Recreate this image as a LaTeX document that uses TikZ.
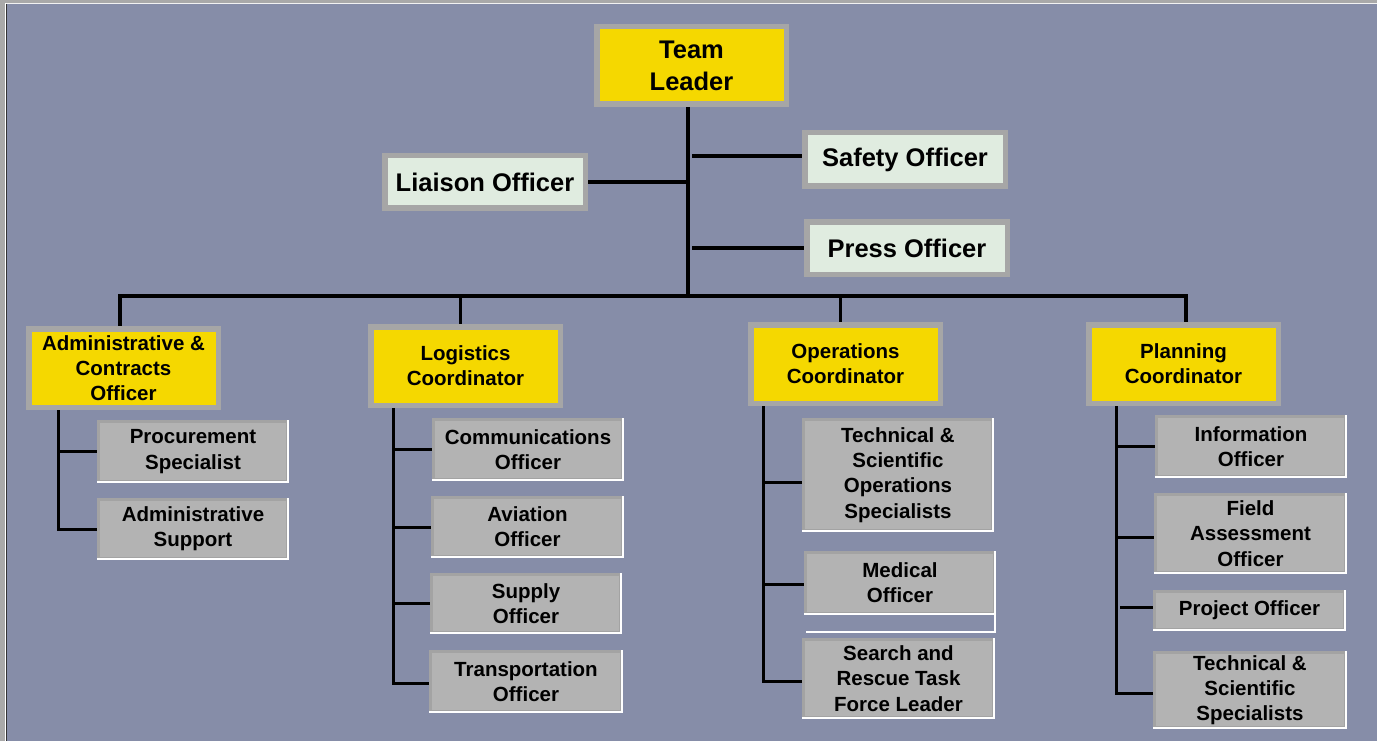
\documentclass[tikz,border=0pt]{standalone}
\usepackage{fontspec}
\setmainfont{Liberation Sans}
\definecolor{bg}{HTML}{868DA8}
\definecolor{ylw}{HTML}{F5D800}
\definecolor{bord}{HTML}{A6A6A6}
\definecolor{pale}{HTML}{E0ECE0}
\definecolor{gfill}{HTML}{B3B3B3}
\definecolor{gedge}{HTML}{A3A3A3}
\definecolor{frame}{HTML}{A9A9A9}
\newcommand\orgbox[7]{\node[#1, minimum width={(#5)-(#3)}, minimum height={(#6)-(#4)}] (#2) at ({((#3)+(#5))/2},{((#4)+(#6))/2}) {#7};}
\tikzset{
  box/.style={inner sep=0pt, align=center, font=\bfseries\fontsize{20.5}{25.3}\selectfont},
  bigtext/.style={font=\bfseries\fontsize{25.5}{32}\selectfont},
  ybox/.style={box, fill=bord, path picture={
      \fill[ylw] ([xshift=5.5pt,yshift=-5.5pt]path picture bounding box.north west) rectangle ([xshift=-5.5pt,yshift=5.5pt]path picture bounding box.south east);}},
  obox/.style={box, bigtext, fill=bord, path picture={
      \fill[pale] ([xshift=5.5pt,yshift=-5.5pt]path picture bounding box.north west) rectangle ([xshift=-5.5pt,yshift=5.5pt]path picture bounding box.south east);}},
  gbox/.style={box, fill=white, path picture={
      \fill[gedge] (path picture bounding box.north west) rectangle ([xshift=-2.5pt,yshift=2.5pt]path picture bounding box.south east);
      \fill[gfill] ([xshift=2.5pt,yshift=-2.5pt]path picture bounding box.north west) rectangle ([xshift=-3.5pt,yshift=3.5pt]path picture bounding box.south east);}},
  conn/.style={line width=4pt, black},
  sub/.style={line width=3pt, black},
}
\begin{document}
\begin{tikzpicture}[x=1pt, y=-1pt]
\useasboundingbox (0,0) rectangle (1377,741);
% background and window frame
\fill[bg] (0,0) rectangle (1377,741);
\fill[frame] (0,0) rectangle (5,741);
\fill[frame] (0,0) rectangle (1377,2.7);
\fill[white] (5,2.7) rectangle (6,741);
\fill[black!80] (6,2.7) rectangle (7,741);
\fill[white!85!frame] (6,2.7) rectangle (1377,3.6);

% top level
\orgbox{ybox, bigtext}{TL}{594}{24}{789}{107}{Team\\Leader}
\orgbox{obox}{lia}{382}{153}{588}{211}{Liaison Officer}
\orgbox{obox}{saf}{802}{130}{1008}{189}{Safety Officer}
\orgbox{obox}{prs}{804}{219}{1010}{277}{Press Officer}

% coordinators
\orgbox{ybox}{adm}{26}{326}{221}{410}{Administrative \&\\Contracts\\Officer}
\orgbox{ybox}{log}{368}{324}{563}{408}{Logistics\\Coordinator}
\orgbox{ybox}{ops}{748}{322}{943}{406}{Operations\\Coordinator}
\orgbox{ybox}{pln}{1086}{322}{1281}{406}{Planning\\Coordinator}

% admin staff
\orgbox{gbox}{pro}{97}{420}{289}{483}{Procurement\\Specialist}
\orgbox{gbox}{sup}{97}{498}{289}{560}{Administrative\\Support}

% logistics staff
\orgbox{gbox}{com}{432}{418}{624}{481}{Communications\\Officer}
\orgbox{gbox}{avi}{431}{496}{624}{558}{Aviation\\Officer}
\orgbox{gbox}{spl}{430}{573}{622}{634}{Supply\\Officer}
\orgbox{gbox}{tra}{429}{650}{623}{713}{Transportation\\Officer}

% operations staff
\orgbox{gbox}{tso}{802}{418}{994}{532}{Technical \&\\Scientific\\Operations\\Specialists}
\orgbox{gbox}{med}{804}{551}{996}{615}{Medical\\Officer}
\draw[white, line width=2.2pt] ([xshift=-1.1pt]med.north east) -- ([xshift=-1.1pt,yshift=-17pt]med.south east) -- ([xshift=2pt,yshift=-17pt]med.south west);
\orgbox{gbox}{sar}{802}{638}{995}{719}{Search and\\Rescue Task\\Force Leader}

% planning staff
\orgbox{gbox}{inf}{1155}{415}{1347}{478}{Information\\Officer}
\orgbox{gbox}{fld}{1154}{493}{1347}{574}{Field\\Assessment\\Officer}
\orgbox{gbox}{prj}{1153}{590}{1346}{631}{Project Officer}
\orgbox{gbox}{tss}{1153}{651}{1347}{729}{Technical \&\\Scientific\\Specialists}

% connectors: top
\coordinate (trunk) at (688,296);
\coordinate (busL) at (120,296);
\coordinate (busR) at (1186,296);
\coordinate (dLog) at (460,296);
\coordinate (dOps) at (840,296);
\draw[conn] (trunk |- TL.south) -- (trunk);
\draw[conn] (lia.east) -- (lia.east -| trunk);
\draw[conn] ([xshift=4pt,yshift=3.5pt]trunk |- saf.west) -- ([yshift=3.5pt]saf.west);
\draw[conn] ([xshift=4pt]trunk |- prs.west) -- (prs.west);
\draw[conn] (busL |- adm.north) -- (busL) -- (busR) -- (busR |- pln.north);
\draw[sub] (dLog) -- (dLog |- log.north);
\draw[sub] (dOps) -- (dOps |- ops.north);

% connectors: admin
\coordinate (aV) at (58,0);
\draw[sub] (aV |- adm.south) |- (sup.west);
\draw[sub] (aV |- pro.west) -- (pro.west);

% connectors: logistics
\coordinate (lV) at (393,0);
\draw[sub] (lV |- log.south) |- ([yshift=-1.5pt]tra.west);
\draw[sub] (lV |- com.west) -- (com.west);
\draw[sub] (lV |- avi.west) -- (avi.west);
\draw[sub] (lV |- spl.west) -- (spl.west);

% connectors: operations
\coordinate (oV) at (763,0);
\draw[sub] (oV |- ops.south) |- ([yshift=-3pt]sar.west);
\draw[sub] ([yshift=-7pt]oV |- tso.west) -- ([yshift=-7pt]tso.west);
\draw[sub] ([yshift=-1pt]oV |- med.west) -- ([yshift=-1pt]med.west);

% connectors: planning
\coordinate (pV) at (1116,0);
\draw[sub] (pV |- pln.south) |- ([yshift=-3pt]tss.west);
\draw[sub] (pV |- inf.west) -- (inf.west);
\draw[sub] ([yshift=-3.5pt]pV |- fld.west) -- ([yshift=-3.5pt]fld.west);
\draw[sub] ([xshift=4pt,yshift=3.5pt]pV |- prj.west) -- ([yshift=3.5pt]prj.west);
\end{tikzpicture}
\end{document}
